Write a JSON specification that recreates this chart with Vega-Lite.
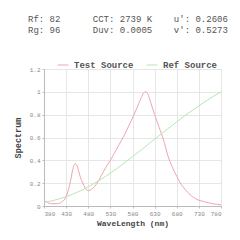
{
  "$schema": "https://vega.github.io/schema/vega-lite/v6.json",
  "width": 177,
  "height": 137,
  "autosize": {"type": "none"},
  "padding": {"left": 44, "top": 69, "right": 19, "bottom": 34},
  "background": "white",
  "title": {
    "text": ["Rf: 82\u00a0\u00a0\u00a0\u00a0\u00a0\u00a0CCT: 2739 K\u00a0\u00a0\u00a0\u00a0u': 0.2606", "Rg: 96\u00a0\u00a0\u00a0\u00a0\u00a0\u00a0Duv: 0.0005\u00a0\u00a0\u00a0\u00a0v': 0.5273"],
    "anchor": "start",
    "frame": "group",
    "dx": -16,
    "offset": 24,
    "font": "Liberation Mono",
    "fontSize": 9,
    "fontWeight": "normal",
    "color": "#555",
    "lineHeight": 11
  },
  "data": {
    "values": [
      {"wl": 380, "value": 0.03, "series": "Test Source"},
      {"wl": 385, "value": 0.04, "series": "Test Source"},
      {"wl": 390, "value": 0.025, "series": "Test Source"},
      {"wl": 400, "value": 0.02, "series": "Test Source"},
      {"wl": 410, "value": 0.02, "series": "Test Source"},
      {"wl": 420, "value": 0.035, "series": "Test Source"},
      {"wl": 430, "value": 0.08, "series": "Test Source"},
      {"wl": 440, "value": 0.22, "series": "Test Source"},
      {"wl": 445, "value": 0.32, "series": "Test Source"},
      {"wl": 450, "value": 0.37, "series": "Test Source"},
      {"wl": 455, "value": 0.35, "series": "Test Source"},
      {"wl": 460, "value": 0.28, "series": "Test Source"},
      {"wl": 470, "value": 0.18, "series": "Test Source"},
      {"wl": 480, "value": 0.135, "series": "Test Source"},
      {"wl": 490, "value": 0.155, "series": "Test Source"},
      {"wl": 500, "value": 0.2, "series": "Test Source"},
      {"wl": 510, "value": 0.27, "series": "Test Source"},
      {"wl": 520, "value": 0.34, "series": "Test Source"},
      {"wl": 530, "value": 0.4, "series": "Test Source"},
      {"wl": 540, "value": 0.47, "series": "Test Source"},
      {"wl": 550, "value": 0.54, "series": "Test Source"},
      {"wl": 560, "value": 0.61, "series": "Test Source"},
      {"wl": 570, "value": 0.69, "series": "Test Source"},
      {"wl": 580, "value": 0.77, "series": "Test Source"},
      {"wl": 590, "value": 0.86, "series": "Test Source"},
      {"wl": 600, "value": 0.95, "series": "Test Source"},
      {"wl": 605, "value": 0.99, "series": "Test Source"},
      {"wl": 610, "value": 1.0, "series": "Test Source"},
      {"wl": 615, "value": 0.98, "series": "Test Source"},
      {"wl": 620, "value": 0.92, "series": "Test Source"},
      {"wl": 630, "value": 0.8, "series": "Test Source"},
      {"wl": 640, "value": 0.69, "series": "Test Source"},
      {"wl": 650, "value": 0.58, "series": "Test Source"},
      {"wl": 660, "value": 0.44, "series": "Test Source"},
      {"wl": 670, "value": 0.34, "series": "Test Source"},
      {"wl": 680, "value": 0.26, "series": "Test Source"},
      {"wl": 690, "value": 0.19, "series": "Test Source"},
      {"wl": 700, "value": 0.14, "series": "Test Source"},
      {"wl": 710, "value": 0.1, "series": "Test Source"},
      {"wl": 720, "value": 0.07, "series": "Test Source"},
      {"wl": 730, "value": 0.05, "series": "Test Source"},
      {"wl": 740, "value": 0.04, "series": "Test Source"},
      {"wl": 750, "value": 0.03, "series": "Test Source"},
      {"wl": 760, "value": 0.02, "series": "Test Source"},
      {"wl": 770, "value": 0.015, "series": "Test Source"},
      {"wl": 780, "value": 0.01, "series": "Test Source"},
      {"wl": 380, "value": 0.03, "series": "Ref Source"},
      {"wl": 400, "value": 0.047, "series": "Ref Source"},
      {"wl": 420, "value": 0.069, "series": "Ref Source"},
      {"wl": 440, "value": 0.096, "series": "Ref Source"},
      {"wl": 460, "value": 0.129, "series": "Ref Source"},
      {"wl": 480, "value": 0.168, "series": "Ref Source"},
      {"wl": 500, "value": 0.213, "series": "Ref Source"},
      {"wl": 520, "value": 0.262, "series": "Ref Source"},
      {"wl": 540, "value": 0.315, "series": "Ref Source"},
      {"wl": 560, "value": 0.373, "series": "Ref Source"},
      {"wl": 580, "value": 0.432, "series": "Ref Source"},
      {"wl": 600, "value": 0.492, "series": "Ref Source"},
      {"wl": 620, "value": 0.554, "series": "Ref Source"},
      {"wl": 640, "value": 0.616, "series": "Ref Source"},
      {"wl": 660, "value": 0.677, "series": "Ref Source"},
      {"wl": 680, "value": 0.738, "series": "Ref Source"},
      {"wl": 700, "value": 0.796, "series": "Ref Source"},
      {"wl": 720, "value": 0.851, "series": "Ref Source"},
      {"wl": 740, "value": 0.904, "series": "Ref Source"},
      {"wl": 760, "value": 0.954, "series": "Ref Source"},
      {"wl": 780, "value": 1.0, "series": "Ref Source"}
    ]
  },
  "mark": {"type": "line", "strokeWidth": 1, "interpolate": "monotone"},
  "encoding": {
    "x": {
      "field": "wl",
      "type": "quantitative",
      "scale": {"domain": [380, 780], "nice": false, "zero": false},
      "axis": {
        "title": "WaveLength (nm)",
        "values": [380, 430, 480, 530, 580, 630, 680, 730, 780],
        "labelFont": "Liberation Mono",
        "labelFontSize": 6,
        "labelColor": "#888",
        "tickSize": 2,
        "tickColor": "#bbb",
        "labelPadding": 2,
        "domainColor": "#bbb",
        "gridColor": "#e6e6e6",
        "titleFont": "Liberation Mono",
        "titleFontSize": 8,
        "titleFontWeight": "bold",
        "titleColor": "#444",
        "titlePadding": 3
      }
    },
    "y": {
      "field": "value",
      "type": "quantitative",
      "scale": {"domain": [0, 1.2], "nice": false},
      "axis": {
        "title": "Spectrum",
        "values": [0, 0.2, 0.4, 0.6, 0.8, 1, 1.2],
        "format": ".1~f",
        "labelFont": "Liberation Mono",
        "labelFontSize": 6,
        "labelColor": "#888",
        "tickSize": 2,
        "tickColor": "#bbb",
        "labelPadding": 2,
        "domainColor": "#bbb",
        "gridColor": "#e6e6e6",
        "titleFont": "Liberation Mono",
        "titleFontSize": 8.5,
        "titleFontWeight": "bold",
        "titleColor": "#444",
        "titlePadding": 7
      }
    },
    "color": {
      "field": "series",
      "type": "nominal",
      "scale": {"domain": ["Test Source", "Ref Source"], "range": ["#f0a4ae", "#b4e8b4"]},
      "legend": {
        "orient": "none",
        "legendX": 13,
        "legendY": -10,
        "direction": "horizontal",
        "title": null,
        "symbolType": "stroke",
        "symbolSize": 120,
        "symbolStrokeWidth": 1,
        "labelFont": "Liberation Mono",
        "labelFontSize": 9,
        "labelFontWeight": "bold",
        "labelColor": "#555",
        "labelOffset": 5,
        "columnPadding": 10
      }
    }
  },
  "config": {
    "view": {"stroke": "#e6e6e6"}
  }
}
